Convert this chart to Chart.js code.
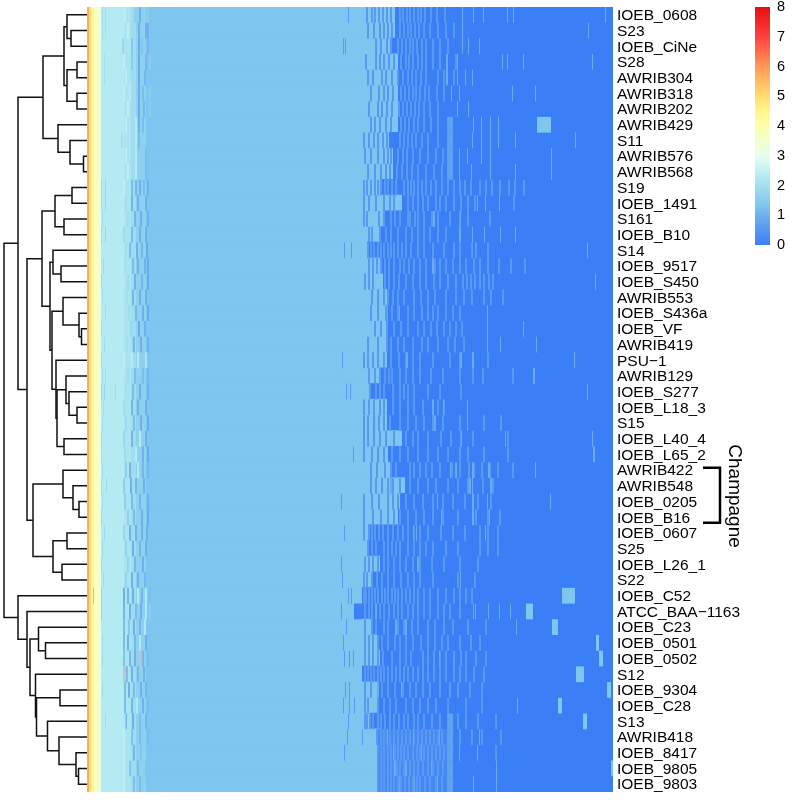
<!DOCTYPE html>
<html>
<head>
<meta charset="utf-8">
<title>Heatmap</title>
<script src="https://cdn.jsdelivr.net/npm/chart.js@4"></script>
<style>
  html, body { margin: 0; padding: 0; background: #fff; }
  #wrap { position: relative; width: 800px; height: 800px; }
  #heat { position: absolute; left: 0; top: 0; }
  #scaleBar { position: absolute; left: 745px; top: 0; }
</style>
</head>
<body>
<div id="wrap">
  <canvas id="heat" width="800" height="800"></canvas>
  <canvas id="scaleBar" width="55" height="260"></canvas>
</div>
<script>
const samples = ['IOEB_0608', 'S23', 'IOEB_CiNe', 'S28', 'AWRIB304', 'AWRIB318', 'AWRIB202', 'AWRIB429', 'S11', 'AWRIB576',
  'AWRIB568', 'S19', 'IOEB_1491', 'S161', 'IOEB_B10', 'S14', 'IOEB_9517', 'IOEB_S450', 'AWRIB553', 'IOEB_S436a',
  'IOEB_VF', 'AWRIB419', 'PSU\u22121', 'AWRIB129', 'IOEB_S277', 'IOEB_L18_3', 'S15', 'IOEB_L40_4', 'IOEB_L65_2', 'AWRIB422',
  'AWRIB548', 'IOEB_0205', 'IOEB_B16', 'IOEB_0607', 'S25', 'IOEB_L26_1', 'S22', 'IOEB_C52', 'ATCC_BAA\u22121163', 'IOEB_C23',
  'IOEB_0501', 'IOEB_0502', 'S12', 'IOEB_9304', 'IOEB_C28', 'S13', 'AWRIB418', 'IOEB_8417', 'IOEB_9805', 'IOEB_9803'];

const colorValues = [0, 1, 1.3, 2, 2.3, 3, 4, 4.5, 5, 6, 7, 8];
const colorHexes = ['#3b7ff7', '#70b0ec', '#7ec5ef', '#a3e0ee', '#b4ebf3', '#e6ffee', '#fdffa8', '#fff58c', '#ffdd70', '#ff9955', '#ff4040', '#e60f0f'];
const missingColor = '#bfc4c6';

// columns shared by every row, left edge of the heatmap
const baseStarts = [0, 2, 4, 7, 13, 14, 37, 44, 49];
const baseEnds = [2, 4, 7, 13, 14, 37, 44, 49, 59];
const baseValues = [5.7, 5, 4.3, 3.7, 3, 2.3, 2.1, 1.9, 1.6];

// column where the sky blue part of each row stops
const skyEnd = [308, 308, 303, 311, 311, 311, 311, 311, 302, 306, 306, 293, 315, 298, 293, 280, 293, 296, 300, 300,
  300, 300, 300, 293, 283, 300, 300, 315, 301, 303, 318, 313, 311, 281, 280, 293, 286, 275, 275, 286,
  290, 293, 275, 290, 290, 283, 293, 291, 291, 291];

// per row stripes, [column, value]
const leftStripes = [
  [[15, 2], [18, 2], [37, 2.4], [47, 1.5], [52, 1], [60, 1.5]],
  [[15, 2], [18, 2], [40, 2.4], [51, 1], [58, 1], [60, 1]],
  [[35, 1.8], [44, 1.4], [51, 0.9], [54, 1.3], [60, 1.1]],
  [[17, 2], [36, 2.4], [44, 1.5], [51, 0.9], [58, 1.1], [62, 1.5]],
  [[17, 2], [38, 2.4], [51, 0.9], [57, 1.1]],
  [[36, 2.4], [42, 2.3], [51, 0.9], [55, 1.2], [62, 1.5]],
  [[40, 2.4], [51, 0.9], [56, 1.1], [62, 1.5]],
  [[38, 2.4], [48, 2.3], [51, 1], [55, 1.2]],
  [[34, 2], [48, 2.3], [51, 1.2]],
  [[38, 2.4], [48, 2.3], [58, 1.2]],
  [[40, 2.4], [48, 2.3], [58, 1.2]],
  [[14, 2], [18, 1.8], [36, 2.4], [44, 1.2], [48, 1.1], [52, 1], [56, 1.2], [60, 1]],
  [[14, 2], [18, 1.8], [38, 2], [44, 1.1], [50, 1], [58, 1]],
  [[15, 1.9], [40, 1.9], [47, 1.1], [53, 1], [60, 1]],
  [[14, 1.9], [18, 1.7], [36, 1.9], [44, 1.2], [52, 1], [58, 1]],
  [[38, 2], [42, 1.2], [49, 1], [54, 1.1], [59, 0.9]],
  [[16, 1.9], [37, 2], [45, 1.2], [50, 1], [57, 1], [60, 0.9]],
  [[14, 1.9], [40, 1.9], [47, 1], [54, 1.1], [60, 0.9]],
  [[15, 2], [39, 2], [45, 1.1], [52, 1], [58, 1]],
  [[18, 1.9], [41, 1.9], [48, 1.1], [55, 1], [60, 0.9]],
  [[14, 2], [43, 1.8], [51, 0.9], [57, 1]],
  [[17, 1.9], [39, 2], [46, 1.1], [53, 1], [60, 1]],
  [[14, 1.9], [36, 2.4], [44, 2.3], [50, 2.3], [58, 2.2]],
  [[15, 1.9], [18, 1.9], [40, 1.9], [47, 1.2], [55, 1.2], [60, 1.1]],
  [[14, 1.8], [17, 1.8], [28, 1.9], [38, 2], [45, 1.2], [52, 1], [60, 1]],
  [[16, 2], [36, 2], [44, 1.1], [50, 1], [58, 1]],
  [[15, 2], [38, 1.9], [46, 1.2], [53, 1], [60, 0.9]],
  [[14, 2], [36, 1.8], [44, 1.1], [52, 2.3], [58, 1]],
  [[14, 2], [37, 1.9], [48, 2.3], [55, 1], [60, 0.9]],
  [[15, 1.9], [38, 1.6], [42, 1.1], [50, 2.3], [55, 1.1], [60, 1.1]],
  [[14, 1.9], [19, 1.9], [36, 1.6], [43, 1], [48, 1.1], [56, 1]],
  [[15, 1.9], [37, 1.6], [44, 1.2], [52, 1.1], [60, 1]],
  [[14, 1.9], [40, 1.6], [46, 1.2], [54, 1], [60, 0.9]],
  [[17, 1.9], [36, 1.8], [42, 1], [48, 1], [54, 1], [59, 1]],
  [[15, 2], [38, 1.7], [45, 1], [52, 1.1], [58, 1]],
  [[14, 1.9], [40, 1.7], [47, 1.1], [55, 1]],
  [[16, 1.9], [38, 1.7], [44, 1], [50, 1], [57, 1.1]],
  [[36, 1], [40, 1.1], [45, 1], [50, 2.3], [54, 1.1], [58, 2.2], [62, 1.2]],
  [[36, 1.1], [42, 1], [48, 1.2], [53, 1], [58, 2.2], [62, 1.5]],
  [[36, 1.2], [41, 1.4], [46, 1], [52, 1.1], [57, 2.2]],
  [[15, 2], [36, 1.2], [40, 1], [47, 1.1], [52, 2.2], [58, 1]],
  [[15, 2], [36, 1.3], [42, 1.1], [47, 1], [55, 1.1], [60, 1.2]],
  [[39, 1.2], [44, 1], [50, 1.1], [56, 1]],
  [[15, 2], [37, 1.2], [41, 1], [46, 1.2], [53, 1], [58, 1.1]],
  [[37, 1.2], [44, 1.1], [49, 2.2], [55, 1], [60, 1.2]],
  [[18, 1.9], [38, 1.1], [45, 1], [52, 1.2], [58, 1.1]],
  [[36, 2.4], [44, 1.3], [52, 1.2], [60, 1.2]],
  [[36, 2.4], [46, 1.1], [53, 1.3]],
  [[36, 2.4], [42, 1.3], [50, 1.2], [58, 1.3]],
  [[36, 2.4], [46, 1.2], [52, 1.2]]
];

// columns holding a mid blue stripe, row by row
const midStripes = [
  [261, 279, 284, 287, 291, 295, 299, 303, 312, 315, 319, 322, 326, 330, 333, 337, 343, 349, 357],
  [280, 286, 292, 296, 300, 304, 312, 316, 320, 323, 327, 331, 336, 342, 350, 358, 366],
  [256, 258, 288, 293, 299, 303, 310, 314, 318, 322, 325, 329, 334, 338, 345, 352, 360],
  [278, 288, 292, 296, 301, 306, 313, 318, 321, 325, 330, 334, 338, 345, 352, 368],
  [280, 285, 294, 298, 304, 310, 315, 320, 324, 328, 333, 338, 350, 356, 366],
  [283, 291, 296, 300, 305, 313, 317, 321, 325, 328, 332, 337, 341, 349, 356],
  [281, 290, 294, 299, 304, 311, 315, 319, 323, 327, 331, 336, 342, 350],
  [283, 287, 292, 298, 303, 313, 317, 321, 326, 330, 336, 343, 350],
  [276, 281, 286, 290, 295, 299, 312, 316, 320, 324, 328, 334, 340, 350],
  [277, 283, 290, 296, 300, 303, 310, 315, 319, 325, 332, 340, 348, 355],
  [280, 287, 293, 298, 302, 309, 314, 319, 324, 330, 338, 346, 354],
  [276, 279, 283, 287, 290, 293, 297, 300, 304, 308, 316, 320, 323, 326, 330, 334, 338, 343, 348, 354, 360, 366, 372, 377, 383, 392, 398, 404, 412, 421, 427, 436],
  [276, 281, 288, 296, 302, 306, 320, 325, 330, 335, 340, 348, 352, 358, 366, 373, 380, 387, 426],
  [276, 279, 291, 296, 303, 307, 312, 320, 322, 327, 330, 336, 344, 350, 362, 372, 380, 402],
  [281, 284, 292, 298, 303, 310, 318, 324, 330, 336, 342, 350, 358],
  [257, 264, 280, 283, 286, 290, 293, 296, 300, 303, 306, 310, 314, 318, 323, 330, 336, 345, 356, 366, 372, 384, 388, 400],
  [281, 285, 289, 293, 297, 301, 306, 312, 316, 321, 326, 332, 338, 347, 352, 358, 365, 372, 378, 386, 392, 400, 411, 423, 437],
  [277, 281, 285, 297, 301, 306, 311, 318, 325, 332, 338, 346, 352, 360, 368, 375, 379, 383, 387, 392, 396, 401, 405],
  [284, 290, 296, 300, 305, 310, 316, 326, 333, 340, 347, 358, 368, 376, 384, 396, 403, 415],
  [283, 290, 298, 304, 310, 320, 326, 334, 340, 345, 350, 358, 365, 372],
  [287, 293, 299, 306, 313, 320, 330, 336, 343, 349, 356, 362, 368, 374],
  [280, 290, 299, 303, 310, 316, 325, 334, 340, 350, 360, 367, 376],
  [255, 276, 280, 285, 290, 296, 303, 311, 318, 325, 332, 345, 362, 372, 385, 400],
  [281, 287, 292, 297, 301, 304, 312, 318, 325, 332, 343, 355, 372, 385, 395, 425],
  [259, 263, 282, 288, 292, 296, 305, 312, 316, 320, 326, 340, 352, 373],
  [276, 281, 286, 292, 296, 305, 312, 320, 326, 335, 345, 350, 356],
  [276, 280, 286, 291, 296, 302, 312, 320, 328, 336, 345, 355, 372, 396, 413],
  [276, 280, 286, 292, 298, 306, 318, 325, 330, 340, 353, 363, 373, 385, 420],
  [266, 276, 284, 290, 296, 304, 312, 320, 330, 340, 350, 360, 372, 380, 396, 420],
  [283, 289, 297, 303, 308, 322, 326, 332, 338, 344, 352, 364, 372, 381, 386, 394, 402, 410, 425],
  [283, 288, 294, 300, 305, 312, 322, 330, 340, 348, 360, 370, 380, 395, 405],
  [254, 276, 284, 291, 300, 305, 310, 318, 326, 335, 345, 355, 365, 377, 390, 403],
  [276, 285, 293, 300, 306, 312, 320, 328, 336, 345, 355, 370, 388, 400, 412],
  [257, 276, 281, 284, 287, 291, 295, 300, 305, 310, 315, 320, 326, 332, 340, 353, 365, 377, 392, 400, 410],
  [280, 284, 288, 296, 300, 304, 308, 312, 320, 326, 332, 338, 345, 358, 370, 392, 400, 410],
  [254, 277, 281, 285, 290, 296, 300, 306, 312, 318, 325, 332, 344, 356, 372, 390],
  [255, 276, 279, 284, 289, 294, 300, 306, 313, 320, 326, 332, 345, 370, 387],
  [261, 264, 276, 278, 281, 284, 287, 290, 294, 297, 300, 304, 307, 310, 314, 318, 322, 326, 330, 336, 342, 350, 358, 366, 372, 378, 384],
  [254, 277, 281, 284, 288, 292, 296, 301, 306, 310, 314, 320, 325, 330, 336, 342, 350, 356, 362, 372],
  [259, 277, 284, 288, 296, 300, 310, 316, 324, 330, 340, 347, 356, 365, 380, 398],
  [256, 277, 281, 285, 290, 294, 300, 307, 312, 318, 325, 333, 340, 347, 354, 360, 372, 383, 392],
  [257, 262, 266, 277, 281, 285, 290, 295, 304, 312, 318, 323, 335, 340, 346, 352, 358, 366, 373, 378, 388, 398],
  [277, 280, 283, 286, 290, 293, 296, 300, 304, 308, 312, 316, 320, 325, 330, 335, 340, 346, 352, 358, 366, 372, 378, 386, 396],
  [258, 262, 277, 283, 294, 300, 307, 315, 322, 328, 335, 342, 352, 362, 370, 382, 394],
  [256, 262, 267, 277, 280, 290, 296, 302, 308, 318, 325, 332, 340, 348, 360, 378, 394],
  [261, 277, 279, 282, 285, 290, 293, 297, 302, 306, 311, 316, 320, 326, 330, 336, 344, 352, 370, 378, 390, 408],
  [260, 275, 289, 293, 296, 299, 302, 306, 310, 314, 318, 322, 326, 330, 334, 338, 342, 346, 350, 354, 372, 384, 394, 413],
  [257, 290, 293, 296, 300, 303, 307, 310, 313, 316, 320, 325, 329, 332, 336, 340, 344, 348, 352, 356, 408],
  [290, 293, 296, 300, 303, 306, 309, 312, 316, 322, 326, 330, 335, 340, 345, 350, 355],
  [290, 293, 296, 300, 303, 306, 310, 313, 317, 321, 325, 329, 332, 337, 342, 348, 354]
];

// columns holding a thin pale line over the dark part, row by row
const skyStripes = [
  [375, 386, 396, 420, 426, 518], [375, 501], [375, 381, 392], [359, 360, 370, 415, 420, 436, 505], [359, 360, 370, 378, 385],
  [364, 372, 425, 448], [370, 381], [386, 394, 403, 411], [385, 394, 403, 411, 428, 488], [372, 380, 394, 403, 464],
  [372, 384, 403, 428, 464], [], [390, 398, 412], [346, 347, 373], [372, 373, 385, 397, 413, 428],
  [500], [345, 346], [508], [], [300, 312, 400],
  [400, 436], [400, 413, 449], [319, 320, 373, 374, 385, 386, 487], [446, 447], [500],
  [345, 346, 356, 380], [347, 348, 380], [374, 418, 505], [506, 507], [363, 368, 369, 385, 386, 401, 402, 448],
  [303, 304, 382, 383, 385, 403, 404], [350, 385, 386, 400, 463], [354, 385, 386, 402], [326, 329, 398], [],
  [330, 331], [373], [], [288, 289, 386, 388, 401, 412, 423], [308, 309, 318, 319, 429],
  [], [352], [], [290, 291, 314], [430],
  [], [300, 326, 352, 392], [306, 334, 372, 390], [307, 308, 318, 319, 344, 409], [312, 327, 350, 386, 409]
];

// wider patches: row, first column, width
const softBlockRows = [46, 47, 48, 49];
const softBlockStarts = [291, 291, 291, 291];
const softBlockWidths = [69, 69, 69, 69];

const paleBlockRows = [7, 8, 9, 10, 45, 46, 47, 48, 49];
const paleBlockStarts = [360, 360, 360, 360, 360, 360, 360, 360, 360];
const paleBlockWidths = [6, 6, 6, 6, 6, 6, 6, 6, 6];

const skyBlockRows = [7, 37, 38, 39, 40, 41, 42, 43, 44, 45, 48];
const skyBlockStarts = [450, 475, 439, 465, 509, 512, 489, 520, 471, 496, 524];
const skyBlockWidths = [14, 13, 7, 6, 3, 4, 8, 4, 4, 4, 2];

const deepBlockRows = [8, 38];
const deepBlockStarts = [302, 267];
const deepBlockWidths = [4, 8];

const missingRows = [37, 37, 38, 41, 42, 45];
const missingCols = [6, 14, 14, 52, 36, 38];
const missingWidths = [1, 1, 1, 2, 3, 1];

// hclust style merge table: negative = sample row (1 based), positive = earlier merge
const mergeLeft = [-2, -1, -4, -6, 3, 2, -10, -9, -8, 6, -12, -14, 11, -17, -16, -21, -20, -19, -26, -25, -24, -28, 21, -23, 18,
  15, 13, -32, -31, -30, -34, -36, 31, 30, 27, 10, -41, -40, -44, -49, -48, -47, -46, 39, -43, 38, -39, -38, 36];
const mergeRight = [-3, 1, -5, -7, 4, 5, -11, 7, 8, 9, -13, -15, 12, -18, 14, -22, 16, 17, -27, 19, 20, -29, 22, 23, 24,
  25, 26, -33, 28, 29, -35, -37, 32, 33, 34, 35, -42, 37, -45, -50, 40, 41, 42, 43, 44, 45, 46, 47, 48];
const mergeHeight = [16, 20, 10, 10, 20, 23, 3.5, 17, 29, 44, 15, 23, 32, 26, 34, 5.5, 8, 24, 10, 18, 21, 23, 30, 31, 35,
  37, 45, 8, 14, 24, 20, 25, 34, 54, 60, 69, 41.5, 48.5, 27, 8.5, 11, 28, 39.5, 50.5, 51.5, 57, 60, 69, 83];

const scaleTicks = [0, 1, 2, 3, 4, 5, 6, 7, 8];

function hexToRgb(hex) {
  return [1, 3, 5].map(i => parseInt(hex.slice(i, i + 2), 16));
}

function valueColor(v) {
  if (v === null) return missingColor;
  for (let i = 1; i < colorValues.length; i++) {
    if (v <= colorValues[i]) {
      const t = (v - colorValues[i - 1]) / (colorValues[i] - colorValues[i - 1]);
      const a = hexToRgb(colorHexes[i - 1]);
      const b = hexToRgb(colorHexes[i]);
      return 'rgb(' + a.map((c, k) => Math.round(c + (b[k] - c) * t)).join(',') + ')';
    }
  }
  return colorHexes[colorHexes.length - 1];
}

// Bars: a slightly thick base layer so rows leave no seam, then the stripes on top
const baseCells = [];
const overCells = [];
const addCell = (list, row, start, end, v) => list.push({ x: [start, end], y: samples[row], v: v });

samples.forEach((name, row) => {
  baseStarts.forEach((s, i) => addCell(baseCells, row, s, baseEnds[i], baseValues[i]));
  addCell(baseCells, row, 59, skyEnd[row], 1.3);
  addCell(baseCells, row, skyEnd[row], 526, 0);
});
softBlockRows.forEach((row, i) => addCell(overCells, row, softBlockStarts[i], softBlockStarts[i] + softBlockWidths[i], 0.2));
paleBlockRows.forEach((row, i) => addCell(overCells, row, paleBlockStarts[i], paleBlockStarts[i] + paleBlockWidths[i], 0.7));
samples.forEach((name, row) => {
  leftStripes[row].forEach(s => addCell(overCells, row, s[0], s[0] + (s[0] < 30 ? 1 : 2), s[1]));
  midStripes[row].forEach(c => addCell(overCells, row, c, c + (c < 276 ? 1 : 2), 0.55));
  skyStripes[row].forEach(c => addCell(overCells, row, c, c + 1, 0.9));
});
skyBlockRows.forEach((row, i) => addCell(overCells, row, skyBlockStarts[i], skyBlockStarts[i] + skyBlockWidths[i], 1.3));
deepBlockRows.forEach((row, i) => addCell(overCells, row, deepBlockStarts[i], deepBlockStarts[i] + deepBlockWidths[i], 0.05));
missingRows.forEach((row, i) => addCell(overCells, row, missingCols[i], missingCols[i] + missingWidths[i], null));

function cellDataset(list, thickness) {
  return {
    type: 'bar',
    data: list,
    yAxisID: 'y',
    xAxisID: 'x',
    grouped: false,
    barThickness: thickness,
    inflateAmount: 0,
    borderWidth: 0,
    backgroundColor: ctx => valueColor(ctx.raw.v)
  };
}

// Dendrogram: one U shaped line per merge, drawn left of column 0
const nodes = [];
function nodeOf(id) {
  return id < 0 ? { x: 0, y: -id - 1 } : nodes[id - 1];
}
const dendroSets = mergeHeight.map((h, i) => {
  const a = nodeOf(mergeLeft[i]);
  const b = nodeOf(mergeRight[i]);
  nodes.push({ x: -h, y: (a.y + b.y) / 2 });
  return {
    type: 'scatter',
    indexAxis: 'x',
    xAxisID: 'x',
    yAxisID: 'yDend',
    showLine: true,
    data: [{ x: a.x, y: a.y }, { x: -h, y: a.y }, { x: -h, y: b.y }, { x: b.x, y: b.y }],
    borderColor: '#111',
    borderWidth: 1.5,
    pointRadius: 0,
    clip: false
  };
});

// Bracket around the Champagne strains
const bracketSet = {
  type: 'scatter',
  indexAxis: 'x',
  xAxisID: 'x',
  yAxisID: 'yDend',
  showLine: true,
  data: [{ x: 616, y: 28.84 }, { x: 633, y: 28.84 }, { x: 633, y: 32.35 }, { x: 616, y: 32.35 }],
  borderColor: '#000',
  borderWidth: 2.5,
  pointRadius: 0,
  clip: false
};

const champagneLabel = {
  id: 'champagneLabel',
  afterDraw(chart) {
    const ctx = chart.ctx;
    ctx.save();
    ctx.translate(chart.scales.x.getPixelForValue(647), chart.scales.yDend.getPixelForValue(30.65));
    ctx.rotate(Math.PI / 2);
    ctx.font = '19px "Liberation Sans"';
    ctx.fillStyle = '#000';
    ctx.textAlign = 'center';
    ctx.textBaseline = 'middle';
    ctx.fillText('Champagne', 0, 0);
    ctx.restore();
  }
};

new Chart(document.getElementById('heat'), {
  type: 'bar',
  data: {
    labels: samples,
    datasets: [bracketSet].concat(dendroSets, [cellDataset(overCells, 15.8), cellDataset(baseCells, 17)])
  },
  options: {
    indexAxis: 'y',
    responsive: false,
    animation: false,
    layout: { padding: { top: 7, bottom: 8, left: 0, right: 0 } },
    plugins: { legend: { display: false }, tooltip: { enabled: false } },
    scales: {
      x: { type: 'linear', min: -87, max: 526, display: false },
      y: {
        type: 'category',
        position: 'right',
        offset: true,
        grid: { display: false, drawTicks: false },
        border: { display: false },
        afterFit: scale => {
          scale.width = 187;
          scale.paddingTop = 0;
          scale.paddingBottom = 0;
        },
        ticks: {
          autoSkip: false,
          maxRotation: 0,
          padding: 4,
          labelOffset: 1,
          color: '#000',
          font: { family: '"Liberation Sans"', size: 15.5 }
        }
      },
      // the bar chart defaults turn offset on for every y scale
      yDend: { type: 'linear', min: -0.5, max: 49.5, reverse: true, display: false, offset: false }
    }
  },
  plugins: [champagneLabel]
});

new Chart(document.getElementById('scaleBar'), {
  type: 'bar',
  data: {
    labels: ['value'],
    datasets: [{
      data: [[colorValues[0], colorValues[colorValues.length - 1]]],
      barPercentage: 1,
      categoryPercentage: 1,
      inflateAmount: 0,
      borderWidth: 0,
      backgroundColor: ctx => {
        const y = ctx.chart.scales.y;
        if (!y || !ctx.chart.chartArea) return colorHexes[0];
        const g = ctx.chart.ctx.createLinearGradient(0, y.getPixelForValue(0), 0, y.getPixelForValue(8));
        colorValues.forEach((v, i) => g.addColorStop(v / 8, colorHexes[i]));
        return g;
      }
    }]
  },
  options: {
    responsive: false,
    animation: false,
    layout: { padding: { top: 7, bottom: 15, left: 10, right: 0 } },
    plugins: { legend: { display: false }, tooltip: { enabled: false } },
    scales: {
      x: { display: false },
      y: {
        position: 'right',
        min: 0,
        max: 8,
        grid: { display: false, drawTicks: false },
        border: { display: false },
        afterBuildTicks: scale => { scale.ticks = scaleTicks.map(v => ({ value: v })); },
        afterFit: scale => {
          scale.width = 30;
          scale.paddingTop = 0;
          scale.paddingBottom = 0;
        },
        ticks: { padding: 7, color: '#000', font: { family: '"Liberation Sans"', size: 14.5 } }
      }
    }
  }
});
</script>
</body>
</html>
